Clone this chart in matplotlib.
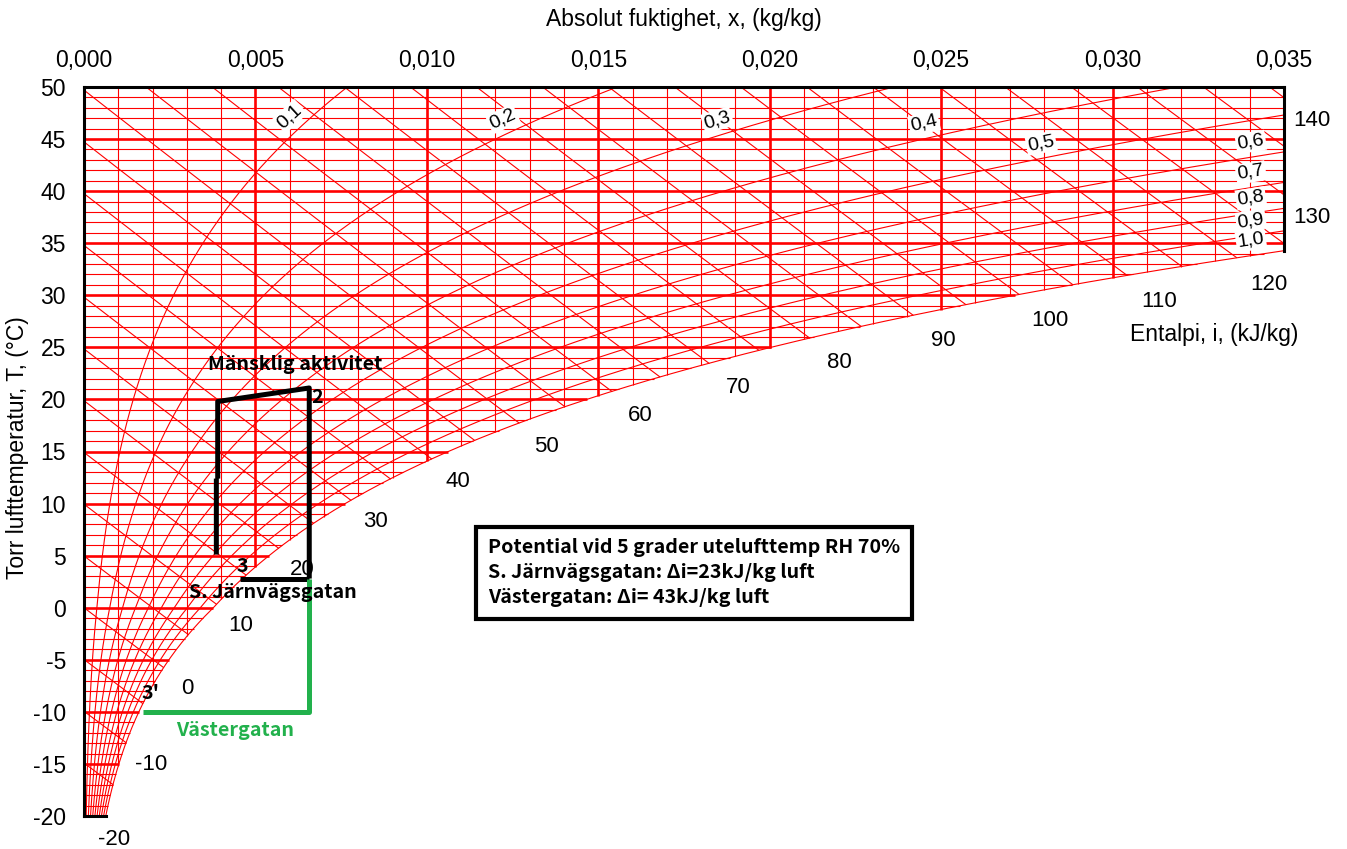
import numpy as np
import matplotlib
matplotlib.use("Agg")
import matplotlib.pyplot as plt

# axes of the chart
x_ticks = [0.000, 0.005, 0.010, 0.015, 0.020, 0.025, 0.030, 0.035]
T_ticks = [-20, -15, -10, -5, 0, 5, 10, 15, 20, 25, 30, 35, 40, 45, 50]
x_grid = [0.001 * k for k in range(1, 35)]
T_grid = list(range(-19, 50))
rh_levels = [0.1, 0.2, 0.3, 0.4, 0.5, 0.6, 0.7, 0.8, 0.9, 1.0]
rh_label_x = [0.0063, 0.0124, 0.0186, 0.0246, 0.0280, 0.0341, 0.0341, 0.0341, 0.0341, 0.0341]
enthalpy_lines = list(range(-20, 145, 5))
enthalpy_labels = [-20, -10, 0, 10, 20, 30, 40, 50, 60, 70, 80, 90, 100, 110, 120, 130, 140]

# process (x kg/kg, T degC)
human_x = [0.00386, 0.00386, None, 0.00390, 0.00390, 0.00657, 0.00657]
human_T = [5.1, 12.4, None, 12.4, 19.8, 21.1, 2.8]
sj_x = [0.00455, 0.00657]
sj_T = [2.8, 2.8]
vg_x = [0.00657, 0.00657, 0.00173]
vg_T = [2.8, -10.0, -10.0]

P = 101325.0
RED = "#ff0000"


def p_sat(T):
    T = np.asarray(T, dtype=float)
    water = 610.94 * np.exp(17.625 * T / (T + 243.04))
    ice = 611.15 * np.exp(22.452 * T / (272.55 + T))
    return np.where(T >= 0, water, ice)


def x_at(T, phi=1.0):
    pw = phi * p_sat(T)
    return 0.622 * pw / (P - pw)


def x_enth(i, T):
    return (i - 1.006 * T) / (2501 + 1.86 * T)


fig = plt.figure(figsize=(13.47, 8.49), dpi=100)
ax = fig.add_axes([84 / 1347, 33 / 849, 1200 / 1347, 729 / 849])
ax.set_xlim(0, 0.035)
ax.set_ylim(-20, 50)
for s in ax.spines.values():
    s.set_visible(False)

T_fine = np.linspace(-20, 50, 2801)
xs = x_at(T_fine)

# isotherms
for T in T_grid:
    xe = min(float(x_at(T)), 0.035)
    ax.plot([0, xe], [T, T], color=RED, lw=1.9 if T % 5 == 0 else 0.8,
            solid_capstyle="butt")
# constant x
for xv in x_grid:
    T0 = np.interp(xv, xs, T_fine)
    ax.plot([xv, xv], [T0, 50], color=RED, lw=1.9 if round(xv * 1000) % 5 == 0 else 0.8,
            solid_capstyle="butt")
# enthalpy
for i in enthalpy_lines:
    xl = x_enth(i, T_fine)
    m = (xl >= 0) & (xl <= 0.035) & (xl <= xs)
    if m.sum() > 1:
        ax.plot(xl[m], T_fine[m], color=RED, lw=0.8)
# relative humidity
for phi in rh_levels:
    xr = x_at(T_fine, phi)
    m = xr <= 0.035
    ax.plot(xr[m], T_fine[m], color=RED, lw=0.8)

# frame
k = dict(color="black", lw=2.2, clip_on=False, solid_capstyle="projecting")
ax.plot([0, 0], [-20, 50], **k)
ax.plot([0, 0.035], [50, 50], **k)
ax.plot([0.035, 0.035], [np.interp(0.035, xs, T_fine), 50], **k)
ax.plot([0, float(x_at(-20))], [-20, -20], **k)

# ticks
ax.xaxis.tick_top()
ax.set_xticks(x_ticks)
ax.set_xticklabels([f"{v:.3f}".replace(".", ",") for v in x_ticks])
ax.set_yticks(T_ticks)
ax.set_yticklabels([str(v) for v in T_ticks])
ax.tick_params(length=0, labelsize=16.5)
ax.tick_params(axis="x", pad=11)
ax.tick_params(axis="y", pad=13)
for lab in ax.get_xticklabels() + ax.get_yticklabels():
    lab.set_family("Liberation Sans")

ax.text(0.5, 1.093, "Absolut fuktighet, x, (kg/kg)", transform=ax.transAxes,
        ha="center", va="center", fontsize=16.5, family="Liberation Sans")
ax.text(-0.055, 0.505, "Torr lufttemperatur, T, (°C)", transform=ax.transAxes,
        ha="center", va="center", rotation=90, fontsize=16.5, family="Liberation Sans")
ax.text(0.03296, 26.2, "Entalpi, i, (kJ/kg)", ha="center", va="center",
        fontsize=16.5, family="Liberation Sans")

# RH labels
to_px = ax.transData.transform
for phi, xl in zip(rh_levels, rh_label_x):
    Tc = np.interp(xl, x_at(T_fine, phi), T_fine)
    p0 = to_px((xl, Tc))
    p1 = to_px((float(x_at(Tc + 0.5, phi)), Tc + 0.5))
    th = np.arctan2(p1[1] - p0[1], p1[0] - p0[0])
    off = (-15 * np.sin(th), 15 * np.cos(th))
    ax.annotate(f"{phi:.1f}".replace(".", ","), (xl, Tc), xytext=off,
                textcoords="offset pixels", ha="center", va="center",
                rotation=np.degrees(th), fontsize=14, family="Liberation Sans",
                bbox=dict(boxstyle="square,pad=0.08", fc="white", ec="none"))

# enthalpy labels, about 30 px outside the saturation curve
sx = to_px((1, 0))[0] - to_px((0, 0))[0]
sy = to_px((0, 1))[1] - to_px((0, 0))[1]
T_ext = np.linspace(-30, 50, 8001)
xs_ext = x_at(T_ext)
dxdT = np.gradient(xs_ext, T_ext)
sin_a = sy / np.sqrt(sy ** 2 + (dxdT * sx) ** 2)
gap = 30 / sin_a / sx
for i in enthalpy_labels:
    if i > 120:
        xl = 0.0358
        Tl = (i - 2501 * xl) / (1.006 + 1.86 * xl)
    else:
        f = x_enth(i, T_ext) - xs_ext - gap
        j = np.where(f >= 0)[0].max()
        Tl = max(T_ext[j], -22.0)
        xl = x_enth(i, Tl)
    ax.annotate(str(i), (xl, Tl), xytext=(0, -3), textcoords="offset pixels",
                ha="center", va="center", fontsize=16,
                family="Liberation Sans", annotation_clip=False)

# process lines
ax.plot(human_x, human_T, color="black", lw=3.6, solid_capstyle="butt")
ax.plot(sj_x, sj_T, color="black", lw=3.6, solid_capstyle="butt")
ax.plot(vg_x, vg_T, color="#22b14c", lw=3.6, solid_capstyle="butt")

jp = ["Noto Sans CJK JP", "DejaVu Sans"]
fs = 14.2
ax.text(0.00615, 23.4, "Mänsklig aktivitet", ha="center", va="center",
        fontsize=fs, fontweight="bold", family=jp)
ax.text(0.0068, 20.2, "2", ha="center", va="center", fontsize=fs, fontweight="bold", family=jp)
ax.text(0.00461, 4.0, "3", ha="center", va="center", fontsize=fs, fontweight="bold", family=jp)
ax.text(0.00551, 1.5, "S. Järnvägsgatan", ha="center", va="center",
        fontsize=fs, fontweight="bold", family=jp)
ax.text(0.00193, -8.2, "3'", ha="center", va="center", fontsize=fs, fontweight="bold", family=jp)
ax.text(0.0044, -11.8, "Västergatan", ha="center", va="center", color="#22b14c",
        fontsize=fs, fontweight="bold", family=jp)

ax.text(0.01178, 6.65,
        "Potential vid 5 grader utelufttemp RH 70%\n"
        "S. Järnvägsgatan: Δi=23kJ/kg luft\n"
        "Västergatan: Δi= 43kJ/kg luft",
        ha="left", va="top", fontsize=fs, fontweight="bold", family=jp,
        linespacing=1.38,
        bbox=dict(boxstyle="square,pad=0.6", fc="white", ec="black", lw=3))

fig.savefig("out.png", dpi=100)
